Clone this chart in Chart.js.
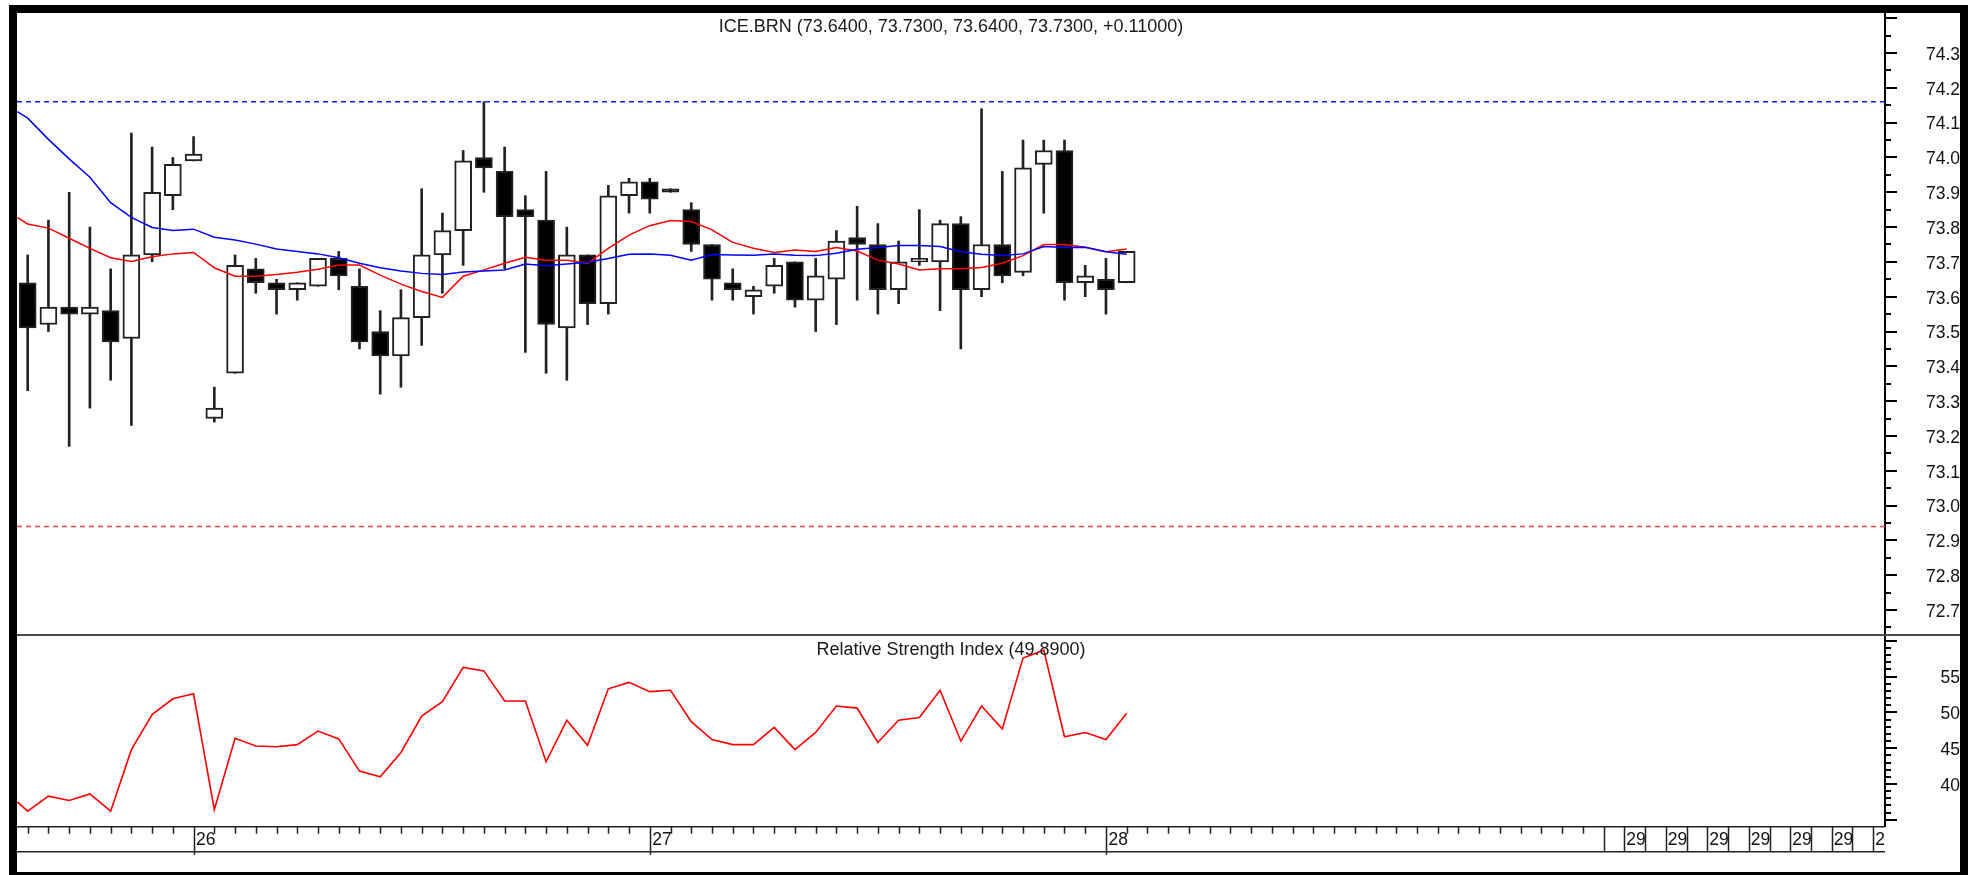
<!DOCTYPE html>
<html>
<head>
<meta charset="utf-8">
<title>ICE.BRN</title>
<script src="https://cdn.jsdelivr.net/npm/chart.js@4.4.0/dist/chart.umd.min.js"></script>
<style>
  html, body { margin: 0; padding: 0; background: #fff; }
  #stage { position: relative; width: 1970px; height: 875px; overflow: hidden; background: #fff; }
  .pane { position: absolute; }
  .rule { position: absolute; background: #000; }
</style>
</head>
<body>
<div id="stage">
  <div class="pane" style="left:17px; top:13px;"><canvas id="price-chart" width="1943" height="621"></canvas></div>
  <div class="pane" style="left:17px; top:636px;"><canvas id="rsi-chart" width="1943" height="236"></canvas></div>
  <!-- pane separator -->
  <div class="rule" style="left:17px; top:634px; width:1943px; height:2px; background:#4a4a4a;"></div>
  <!-- window frame -->
  <div class="rule" style="left:9px; top:5px; width:1959px; height:8px;"></div>
  <div class="rule" style="left:9px; top:5px; width:8px; height:870px;"></div>
  <div class="rule" style="left:1960px; top:5px; width:8px; height:870px;"></div>
  <div class="rule" style="left:9px; top:872px; width:1959px; height:3px;"></div>
</div>
<script>
// ICE.BRN bars, oldest first
const opens = [73.64, 73.52, 73.57, 73.55, 73.56, 73.48, 73.72, 73.89, 73.99, 73.25,
               73.38, 73.68, 73.64, 73.62, 73.63, 73.71, 73.63, 73.50, 73.43, 73.54,
               73.72, 73.79, 74.00, 73.96, 73.85, 73.82, 73.51, 73.72, 73.58, 73.89,
               73.93, 73.91, 73.85, 73.75, 73.64, 73.60, 73.63, 73.70, 73.59, 73.65,
               73.77, 73.75, 73.62, 73.70, 73.70, 73.81, 73.62, 73.75, 73.67, 73.98,
               74.02, 73.64, 73.65, 73.64];
const highs = [73.72, 73.82, 73.90, 73.80, 73.68, 74.07, 74.03, 74.00, 74.06, 73.34,
               73.72, 73.71, 73.65, 73.64, 73.71, 73.73, 73.68, 73.56, 73.62, 73.91,
               73.84, 74.02, 74.16, 74.03, 73.89, 73.96, 73.80, 73.72, 73.92, 73.94,
               73.94, 73.91, 73.87, 73.75, 73.68, 73.63, 73.71, 73.70, 73.71, 73.79,
               73.86, 73.81, 73.76, 73.85, 73.82, 73.83, 74.14, 73.96, 74.05, 74.05,
               74.05, 73.69, 73.71, 73.73];
const lows = [73.33, 73.50, 73.17, 73.28, 73.36, 73.23, 73.70, 73.85, 73.99, 73.24,
              73.38, 73.61, 73.55, 73.59, 73.63, 73.62, 73.45, 73.32, 73.34, 73.46,
              73.61, 73.69, 73.90, 73.68, 73.44, 73.38, 73.36, 73.52, 73.55, 73.84,
              73.84, 73.90, 73.73, 73.59, 73.59, 73.55, 73.61, 73.57, 73.50, 73.52,
              73.59, 73.55, 73.58, 73.69, 73.56, 73.45, 73.60, 73.64, 73.66, 73.84,
              73.59, 73.60, 73.55, 73.64];
const closes = [73.51, 73.57, 73.55, 73.57, 73.47, 73.72, 73.90, 73.98, 74.01, 73.28,
                73.69, 73.64, 73.62, 73.64, 73.71, 73.66, 73.47, 73.43, 73.54, 73.72,
                73.79, 73.99, 73.97, 73.83, 73.83, 73.52, 73.72, 73.58, 73.89, 73.93,
                73.88, 73.90, 73.75, 73.65, 73.62, 73.62, 73.69, 73.59, 73.66, 73.76,
                73.75, 73.62, 73.70, 73.71, 73.81, 73.62, 73.75, 73.66, 73.97, 74.02,
                73.64, 73.66, 73.62, 73.73];

// moving averages and RSI: first value sits on the left edge of the pane, the rest on each bar
const maSlow = [74.132,
                74.113, 74.052, 73.996, 73.943, 73.870, 73.828, 73.799, 73.790, 73.794, 73.771,
                73.763, 73.751, 73.737, 73.730, 73.723, 73.712, 73.696, 73.683, 73.674, 73.667,
                73.664, 73.671, 73.674, 73.677, 73.694, 73.689, 73.694, 73.699, 73.710, 73.722,
                73.723, 73.719, 73.705, 73.721, 73.720, 73.719, 73.723, 73.719, 73.718, 73.725,
                73.736, 73.741, 73.747, 73.747, 73.744, 73.729, 73.722, 73.718, 73.723, 73.744,
                73.741, 73.742, 73.729, 73.722];
const maFast = [73.827,
                73.809, 73.797, 73.768, 73.739, 73.712, 73.701, 73.715, 73.723, 73.727, 73.683,
                73.659, 73.659, 73.664, 73.670, 73.679, 73.691, 73.691, 73.662, 73.636, 73.615,
                73.598, 73.659, 73.677, 73.696, 73.713, 73.705, 73.705, 73.696, 73.739, 73.777,
                73.804, 73.819, 73.816, 73.792, 73.756, 73.739, 73.727, 73.734, 73.730, 73.741,
                73.731, 73.705, 73.694, 73.677, 73.680, 73.680, 73.684, 73.696, 73.718, 73.750,
                73.750, 73.742, 73.729, 73.737];
const rsiValues = [37.5,
                   36.2, 38.3, 37.7, 38.6, 36.2, 44.8, 49.7, 51.9, 52.6, 36.4,
                   46.4, 45.3, 45.2, 45.5, 47.4, 46.3, 41.8, 41.0, 44.4, 49.5,
                   51.5, 56.3, 55.8, 51.6, 51.6, 43.1, 48.9, 45.4, 53.3, 54.2,
                   52.9, 53.1, 48.7, 46.2, 45.5, 45.5, 47.9, 44.8, 47.2, 50.9,
                   50.6, 45.8, 48.9, 49.3, 53.1, 46.0, 50.9, 47.7, 57.6, 58.7,
                   46.6, 47.2, 46.2, 49.89];

// horizontal levels: upper (blue) and lower (red)
const levelValues = [74.16, 72.94];
const levelColors = ['#1c1cf0', '#f04848'];

// session axis
const dayTickIndex = [8, 30, 52];
const dayTickText = ['26', '27', '28'];
const barTickCount = 76;
const nextDayLines = [76, 77, 78, 79, 80, 81, 82, 83, 84, 85, 86, 87, 88, 89];
const nextDayLabelIndex = [77, 79, 81, 83, 85, 87, 89];
const nextDayText = '29';

const xMin = -0.516, xMax = 89.569;
const leadIn = -0.5;

Chart.defaults.font.family = "'Liberation Sans', Arial, sans-serif";
Chart.defaults.font.size = 17.5;
Chart.defaults.color = '#111';

const toPoints = vals => vals.map((v, k) => ({ x: k === 0 ? leadIn : k - 1, y: v }));

// value axis keeps a fixed width and adds no padding above/below the plot
const fixAxis = s => { s.width = 75; s.paddingTop = 0; s.paddingBottom = 0; };

// tick marks on the right-hand value axis (long on major steps)
const axisMarks = {
  id: 'axisMarks',
  afterDraw(chart, args, opts) {
    const y = chart.scales.y;
    const ctx = chart.ctx;
    ctx.save();
    ctx.strokeStyle = '#000';
    ctx.lineWidth = 2;
    ctx.beginPath();
    const first = Math.ceil(y.min / opts.minor - 1e-9);
    const last = Math.floor(y.max / opts.minor + 1e-9);
    for (let k = first; k <= last; k++) {
      const v = k * opts.minor;
      const r = v / opts.major;
      const major = Math.abs(r - Math.round(r)) < 1e-6;
      const py = Math.round(y.getPixelForValue(v));
      ctx.moveTo(y.left, py);
      ctx.lineTo(y.left + (major ? 12 : 6), py);
    }
    ctx.stroke();
    ctx.restore();
  }
};

// caption centred at the top of each pane
const paneTitle = {
  id: 'paneTitle',
  afterDraw(chart, args, opts) {
    const { ctx, chartArea } = chart;
    ctx.save();
    ctx.font = "18px 'Liberation Sans', Arial, sans-serif";
    ctx.fillStyle = '#1a1a1a';
    ctx.textAlign = 'center';
    ctx.textBaseline = 'middle';
    ctx.fillText(opts.text, (chartArea.left + chartArea.right) / 2, chartArea.top + 14);
    ctx.restore();
  }
};

// bar/date band under the RSI pane
const sessionAxis = {
  id: 'sessionAxis',
  afterDraw(chart) {
    const { ctx, chartArea } = chart;
    const x = chart.scales.x;
    const top = chartArea.bottom;
    const bottom = top + 25;
    ctx.save();
    ctx.strokeStyle = '#222';
    ctx.lineWidth = 1.5;
    ctx.beginPath();
    ctx.moveTo(0, top); ctx.lineTo(chartArea.right, top);
    ctx.moveTo(0, bottom); ctx.lineTo(chartArea.right, bottom);
    for (let i = 0; i < barTickCount; i++) {
      const px = Math.round(x.getPixelForValue(i)) + 0.5;
      const long = dayTickIndex.includes(i);
      ctx.moveTo(px, top);
      ctx.lineTo(px, top + (long ? 28 : 7));
    }
    nextDayLines.forEach(i => {
      const px = Math.round(x.getPixelForValue(i)) + 0.5;
      ctx.moveTo(px, top);
      ctx.lineTo(px, bottom);
    });
    ctx.stroke();

    ctx.beginPath();
    ctx.rect(0, top, chartArea.right, 30);
    ctx.clip();
    ctx.font = "17.5px 'Liberation Sans', Arial, sans-serif";
    ctx.fillStyle = '#111';
    ctx.textAlign = 'left';
    ctx.textBaseline = 'middle';
    dayTickIndex.forEach((i, k) => {
      ctx.fillText(dayTickText[k], x.getPixelForValue(i) + 2.5, top + 13);
    });
    nextDayLabelIndex.forEach(i => {
      ctx.fillText(nextDayText, x.getPixelForValue(i) + 2, top + 13);
    });
    ctx.restore();
  }
};

const n = closes.length;
const fmt4 = v => v.toFixed(4);
const change = closes[n - 1] - closes[n - 2];
const priceCaption = 'ICE.BRN (' + [opens[n - 1], highs[n - 1], lows[n - 1], closes[n - 1]].map(fmt4).join(', ') +
  ', ' + (change >= 0 ? '+' : '') + change.toFixed(5) + ')';
const rsiCaption = 'Relative Strength Index (' + rsiValues[rsiValues.length - 1].toFixed(4) + ')';

const wickData = highs.map((h, i) => ({ x: i, y: [lows[i], h] }));
const bodyData = opens.map((o, i) => ({ x: i, y: [o, closes[i]] }));
const bodyFill = opens.map((o, i) => closes[i] < o ? '#000' : '#fff');
const levelData = v => [{ x: xMin, y: v }, { x: xMax, y: v }];

new Chart(document.getElementById('price-chart'), {
  type: 'bar',
  data: {
    datasets: [
      { type: 'line', label: 'level hi', data: levelData(levelValues[0]), borderColor: levelColors[0],
        borderWidth: 1.6, borderDash: [5, 4], pointRadius: 0, order: 0 },
      { type: 'line', label: 'level lo', data: levelData(levelValues[1]), borderColor: levelColors[1],
        borderWidth: 1.6, borderDash: [5, 4], pointRadius: 0, order: 0 },
      { type: 'line', label: 'MA slow', data: toPoints(maSlow), borderColor: '#0000ff',
        borderWidth: 1.5, pointRadius: 0, tension: 0, order: 1 },
      { type: 'line', label: 'MA fast', data: toPoints(maFast), borderColor: '#ff0000',
        borderWidth: 1.5, pointRadius: 0, tension: 0, order: 1 },
      { type: 'bar', label: 'body', data: bodyData, backgroundColor: bodyFill, borderColor: '#222',
        borderWidth: 2, borderSkipped: false, barThickness: 17, grouped: false, order: 2 },
      { type: 'bar', label: 'wick', data: wickData, backgroundColor: '#222', borderWidth: 0,
        barThickness: 2, grouped: false, order: 3 }
    ]
  },
  options: {
    responsive: false,
    animation: false,
    events: [],
    layout: { padding: 0, autoPadding: false },
    plugins: {
      legend: { display: false },
      tooltip: { enabled: false },
      axisMarks: { minor: 0.05, major: 0.1 },
      paneTitle: { text: priceCaption }
    },
    scales: {
      x: { type: 'linear', min: xMin, max: xMax, offset: false, display: false },
      y: {
        position: 'right', min: 72.631, max: 74.415,
        afterFit: fixAxis,
        grid: { display: false, drawTicks: false },
        border: { display: true, color: '#000', width: 2 },
        ticks: {
          stepSize: 0.1, includeBounds: false, maxTicksLimit: 100, autoSkip: false,
          padding: 35, crossAlign: 'far', color: '#111', labelOffset: 2,
          callback: v => (v > 72.65 && v < 74.35) ? v.toFixed(1) : ''
        }
      }
    }
  },
  plugins: [axisMarks, paneTitle]
});

new Chart(document.getElementById('rsi-chart'), {
  type: 'line',
  data: {
    datasets: [
      { label: 'RSI', data: toPoints(rsiValues), borderColor: '#ff0000', borderWidth: 1.6,
        pointRadius: 0, tension: 0 }
    ]
  },
  options: {
    responsive: false,
    animation: false,
    events: [],
    layout: { padding: { top: 0, left: 0, right: 0, bottom: 45.3 }, autoPadding: false },
    plugins: {
      legend: { display: false },
      tooltip: { enabled: false },
      axisMarks: { minor: 1, major: 5 },
      paneTitle: { text: rsiCaption }
    },
    scales: {
      x: { type: 'linear', min: xMin, max: xMax, offset: false, display: false },
      y: {
        position: 'right', min: 34.03, max: 60.68,
        afterFit: fixAxis,
        grid: { display: false, drawTicks: false },
        border: { display: true, color: '#000', width: 2 },
        ticks: {
          stepSize: 5, includeBounds: false, autoSkip: false,
          padding: 49.5, crossAlign: 'far', color: '#111', labelOffset: 2,
          callback: v => (v >= 40 && v <= 55) ? String(v) : ''
        }
      }
    }
  },
  plugins: [axisMarks, paneTitle, sessionAxis]
});
</script>
</body>
</html>
